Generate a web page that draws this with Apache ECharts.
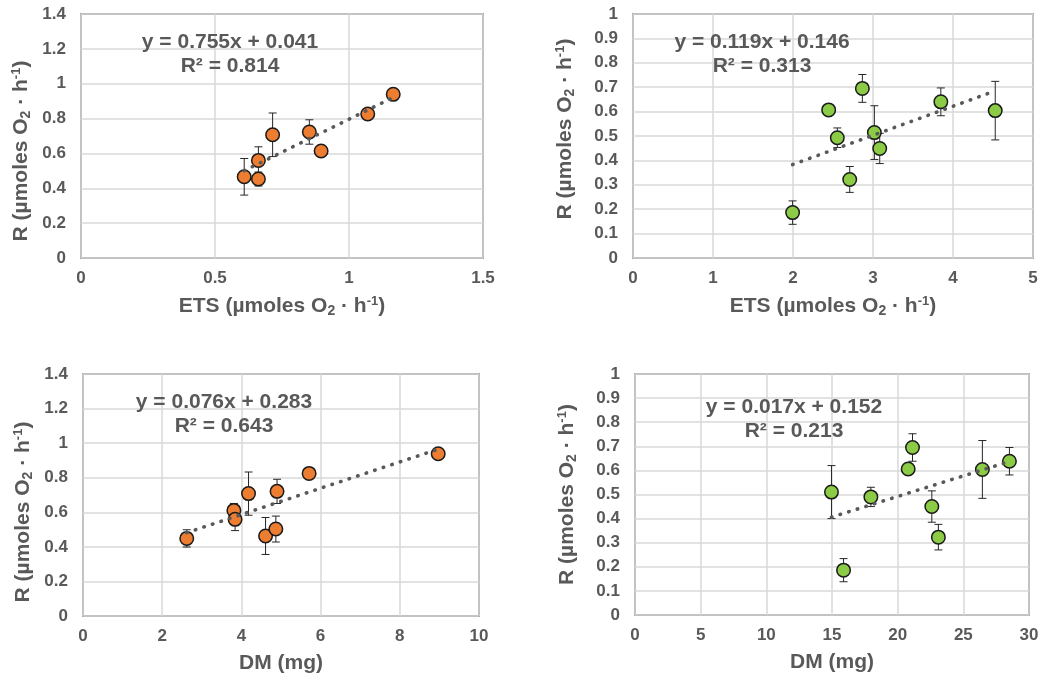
<!DOCTYPE html>
<html>
<head>
<meta charset="utf-8">
<script src="https://cdn.jsdelivr.net/npm/echarts@6/dist/echarts.min.js"></script>
<style>
html,body{margin:0;padding:0;background:#fff;}
#c{width:1043px;height:682px;}
</style>
</head>
<body>
<div id="c"></div>
<script>
// ---- Data ----
// Panel A: R vs ETS (orange group)
const etsA = [0.609, 0.662, 0.662, 0.715, 0.852, 0.896, 1.070, 1.165];
const rA   = [0.466, 0.453, 0.560, 0.707, 0.723, 0.614, 0.826, 0.939];
const errA = [0.105, 0.040, 0.078, 0.125, 0.070, 0.030, 0.000, 0.000];
const trendA = [[0.609, 0.501], [1.165, 0.921]];
const eqA = ['y = 0.755x + 0.041', 'R² = 0.814'];

// Panel B: R vs ETS (green group)
const etsB = [1.995, 2.446, 2.554, 2.709, 2.867, 3.017, 3.084, 3.848, 4.528];
const rB   = [0.186, 0.607, 0.493, 0.322, 0.695, 0.514, 0.449, 0.640, 0.604];
const errB = [0.048, 0.010, 0.040, 0.053, 0.057, 0.110, 0.062, 0.057, 0.120];
const trendB = [[1.995, 0.383], [4.528, 0.685]];
const eqB = ['y = 0.119x + 0.146', 'R² = 0.313'];

// Panel C: R vs DM (orange group)
const dmC  = [2.62, 3.81, 3.84, 4.18, 4.61, 4.87, 4.90, 5.71, 8.97];
const rC   = [0.449, 0.611, 0.559, 0.708, 0.463, 0.503, 0.721, 0.825, 0.939];
const errC = [0.050, 0.040, 0.065, 0.125, 0.107, 0.075, 0.070, 0.000, 0.000];
const trendC = [[2.62, 0.482], [8.97, 0.965]];
const eqC = ['y = 0.076x + 0.283', 'R² = 0.643'];

// Panel D: R vs DM (green group)
const dmD  = [14.96, 15.88, 17.96, 20.80, 21.13, 22.60, 23.10, 26.45, 28.51];
const rD   = [0.510, 0.186, 0.490, 0.606, 0.695, 0.450, 0.323, 0.604, 0.638];
const errD = [0.110, 0.048, 0.040, 0.020, 0.057, 0.065, 0.053, 0.120, 0.057];
const trendD = [[14.96, 0.406], [28.51, 0.637]];
const eqD = ['y = 0.017x + 0.152', 'R² = 0.213'];

const xTitleETS = 'ETS (µmoles O{sub|2} · h{sup|-1})';
const xTitleDM = 'DM (mg)';
const yTitle = 'R (µmoles O{sub|2} · h{sup|-1})';

// ---- Styling ----
const ORANGE = '#ED7D31';
const GREEN = '#8CCB45';
const TXT = '#595959';
const FONT = '"Liberation Sans", Arial, sans-serif';

const rich = {
  sub: {fontSize: 14, fontWeight: 'bold', color: TXT, fontFamily: FONT, verticalAlign: 'bottom', padding: [9, 0, 0, 0]},
  sup: {fontSize: 13, fontWeight: 'bold', color: TXT, fontFamily: FONT, verticalAlign: 'top', padding: [0, 0, 8, 0]}
};

const grids = [
  {left: 81, top: 14, width: 402, height: 244},
  {left: 633, top: 14, width: 400, height: 244},
  {left: 83, top: 374, width: 396, height: 242},
  {left: 635, top: 374, width: 394, height: 241}
];
const xRanges = [[0, 1.5, 0.5], [0, 5, 1], [0, 10, 2], [0, 30, 5]];
const yRanges = [[0, 1.4, 0.2], [0, 1, 0.1], [0, 1.4, 0.2], [0, 1, 0.1]];
const xNames = [xTitleETS, xTitleETS, xTitleDM, xTitleDM];
const yNameGap = [48, 56, 48, 56];
const yNameShift = [30, -14, 34, 0];

function fmt(v) { return String(Math.round(v * 10) / 10); }

const xAxis = xRanges.map((r, i) => ({
  gridIndex: i, type: 'value', min: r[0], max: r[1], interval: r[2],
  name: xNames[i], nameLocation: 'middle', nameGap: 37,
  nameTextStyle: {fontSize: 21, fontWeight: 'bold', color: TXT, fontFamily: FONT, rich: rich},
  axisLine: {show: false}, axisTick: {show: false},
  axisLabel: {fontSize: 17, fontWeight: 'bold', color: TXT, fontFamily: FONT, margin: 12, formatter: fmt},
  splitLine: {show: true, lineStyle: {color: '#d9d9d9', width: 1.5}}
}));
const yAxis = yRanges.map((r, i) => ({
  gridIndex: i, type: 'value', min: r[0], max: r[1], interval: r[2],
  name: yTitle, nameLocation: 'middle', nameGap: yNameGap[i], nameRotate: 90,
  nameTextStyle: {fontSize: 21, fontWeight: 'bold', color: TXT, fontFamily: FONT, rich: rich,
    padding: yNameShift[i] >= 0 ? [0, yNameShift[i], 0, 0] : [0, 0, 0, -yNameShift[i]]},
  axisLine: {show: false}, axisTick: {show: false},
  axisLabel: {fontSize: 17, fontWeight: 'bold', color: TXT, fontFamily: FONT, margin: 15, formatter: fmt},
  splitLine: {show: true, lineStyle: {color: '#d9d9d9', width: 1.5}}
}));

const panels = [
  {x: etsA, y: rA, e: errA, t: trendA, c: ORANGE},
  {x: etsB, y: rB, e: errB, t: trendB, c: GREEN},
  {x: dmC, y: rC, e: errC, t: trendC, c: ORANGE},
  {x: dmD, y: rD, e: errD, t: trendD, c: GREEN}
];

const series = [];
panels.forEach((p, i) => {
  const pts = p.x.map((v, k) => [v, p.y[k], p.e[k]]);
  series.push({
    type: 'custom', xAxisIndex: i, yAxisIndex: i, z: 2, silent: true,
    data: pts,
    renderItem: function (params, api) {
      const x = api.value(0), y = api.value(1), e = api.value(2);
      if (!e) return null;
      const top = api.coord([x, y + e]);
      const bot = api.coord([x, y - e]);
      const hw = 4;
      const st = {stroke: '#262626', lineWidth: 1};
      return {
        type: 'group',
        children: [
          {type: 'line', shape: {x1: top[0], y1: top[1], x2: bot[0], y2: bot[1]}, style: st},
          {type: 'line', shape: {x1: top[0] - hw, y1: top[1], x2: top[0] + hw, y2: top[1]}, style: st},
          {type: 'line', shape: {x1: bot[0] - hw, y1: bot[1], x2: bot[0] + hw, y2: bot[1]}, style: st}
        ]
      };
    },
    encode: {x: 0, y: 1}
  });
  series.push({
    type: 'scatter', xAxisIndex: i, yAxisIndex: i, z: 3,
    data: pts.map(q => [q[0], q[1]]),
    symbol: 'circle', symbolSize: 13.5,
    itemStyle: {color: p.c, borderColor: '#1a1a1a', borderWidth: 1.5, opacity: 1}
  });
  series.push({
    type: 'line', xAxisIndex: i, yAxisIndex: i, z: 4,
    data: p.t, symbol: 'none', silent: true,
    lineStyle: {color: '#595959', width: 3.6, type: [0.5, 8.5], cap: 'round'}
  });
});

const eqs = [eqA, eqB, eqC, eqD];
const eqPos = [[230, 42.7], [762, 42.7], [224, 402.7], [794, 407.7]];
const graphic = [];
eqs.forEach((lines, i) => {
  lines.forEach((s, k) => {
    graphic.push({
      type: 'text', x: eqPos[i][0], y: eqPos[i][1] + k * 24, z: 10,
      style: {text: s, fill: TXT, font: 'bold 21px ' + FONT, align: 'center', verticalAlign: 'middle'}
    });
  });
});

const chart = echarts.init(document.getElementById('c'), null, {renderer: 'canvas'});
chart.setOption({
  animation: false,
  backgroundColor: '#fff',
  grid: grids.map(g => Object.assign({show: true, borderColor: '#595959', borderWidth: 1.5, backgroundColor: 'transparent'}, g)),
  xAxis: xAxis,
  yAxis: yAxis,
  series: series,
  graphic: graphic
});
</script>
</body>
</html>
